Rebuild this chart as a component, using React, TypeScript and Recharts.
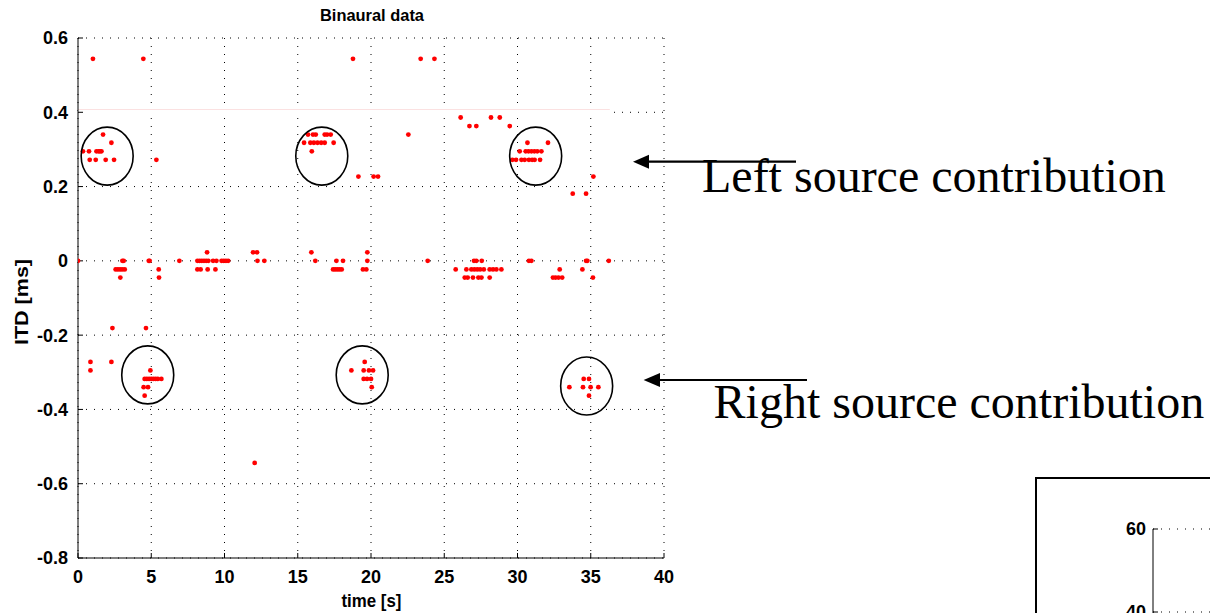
import {
  ScatterChart,
  Scatter,
  XAxis,
  YAxis,
  CartesianGrid,
  ReferenceDot,
  ReferenceLine,
} from "recharts";

// ITD levels in ms (one step = one sample at 44.1 kHz)
const itdLevels = [
  0.544, 0.386, 0.363, 0.34, 0.318, 0.295, 0.272, 0.227, 0.181, 0.023, 0,
  -0.023, -0.045, -0.181, -0.272, -0.295, -0.318, -0.34, -0.363, -0.544,
];

// time [s] of every estimate, one list per ITD level above
const timesAtLevel = [
  [1.02, 4.46, 18.77, 23.39, 24.33],
  [26.12, 28.19, 28.79],
  [26.72, 27.19, 29.47],
  [1.71, 15.7, 16.04, 16.23, 16.84, 17.0, 17.25, 22.55],
  [2.28, 15.43, 15.86, 16.1, 16.35, 16.6, 16.84, 17.45, 30.68, 32.08],
  [0.34, 0.75, 1.26, 1.4, 1.5, 1.6, 15.96, 30.15, 30.56, 30.75, 30.95, 31.15, 31.35, 31.63],
  [0.8, 1.21, 1.89, 2.46, 5.35, 29.65, 29.9, 30.27, 30.49, 30.78, 31.0, 31.17, 31.54],
  [19.14, 20.18, 20.48, 35.18],
  [33.77, 34.68],
  [8.81, 11.95, 12.22, 15.93, 19.75],
  [
    0, 3.03, 3.12, 4.83, 4.89, 6.92, 8.15, 8.3, 8.45, 8.6, 8.75, 8.9, 9.22, 9.45, 9.8, 9.95,
    10.1, 10.25, 12.25, 12.72, 16.2, 17.64, 18.09, 19.75, 23.87, 27.03, 27.19, 27.56, 30.78,
    30.95, 34.68, 34.77, 36.23,
  ],
  [
    2.57, 2.72, 2.87, 3.02, 3.19, 5.51, 8.15, 8.37, 8.85, 9.38, 17.41, 17.55, 17.7, 17.85, 18.0,
    19.45, 19.68, 25.78, 26.51, 26.85, 27.05, 27.25, 27.45, 27.7, 28.1, 28.33, 28.56, 28.9,
    32.88, 34.43,
  ],
  [2.89, 5.53, 26.4, 26.6, 26.96, 27.33, 27.54, 28.1, 32.42, 32.6, 32.8, 33.05, 35.15],
  [2.35, 4.64],
  [0.85, 2.28, 19.57],
  [0.85, 4.94, 18.66, 19.5, 19.86, 20.14],
  [4.55, 4.7, 4.85, 5.0, 5.15, 5.3, 5.45, 5.69, 19.5, 19.73, 20.0, 34.52, 34.88],
  [4.48, 4.78, 20.05, 33.54, 34.47, 34.99, 35.52],
  [4.55, 34.88],
  [12.06],
];

const xTicks = [0, 5, 10, 15, 20, 25, 30, 35, 40];
const yTicks = [-0.8, -0.6, -0.4, -0.2, 0, 0.2, 0.4, 0.6];

// circled source clusters (centre time, centre ITD)
const circleTimes = [1.99, 16.64, 31.24, 4.76, 19.4, 34.72];
const circleItds = [0.282, 0.282, 0.282, -0.307, -0.307, -0.337];

// second (cut off) figure in the corner
const cornerTicks = [0, 20, 40, 60];

const sans = "'Liberation Sans', Arial, Helvetica, sans-serif";
const serif = "'Liberation Serif', 'Times New Roman', serif";
const tickStyle = { fill: "#000", fontSize: 18, fontWeight: "bold", fontFamily: sans };

const RedDot = (props: any) => <circle cx={props.cx} cy={props.cy} r={2.4} fill="#ff0000" />;
const Ellipse = (props: any) => (
  <ellipse cx={props.cx} cy={props.cy} rx={26} ry={29} fill="none" stroke="#000" strokeWidth={1.6} />
);
const CornerTick = (props: any) => (
  <text
    x={props.x}
    y={props.y}
    textAnchor="end"
    dominantBaseline="central"
    fill="#000"
    fontSize={18}
    fontWeight="bold"
    fontFamily={sans}
  >
    {props.payload.value}
  </text>
);

export default function App() {
  const points = itdLevels.flatMap((itd, i) => timesAtLevel[i].map((t) => ({ t, itd })));

  return (
    <div
      style={{
        position: "absolute",
        left: 0,
        top: 0,
        width: 1210,
        height: 613,
        overflow: "hidden",
        background: "#fff",
      }}
    >
      <div style={{ position: "absolute", left: 0, top: 0 }}>
        <ScatterChart width={700} height={613} margin={{ top: 38, right: 36, bottom: 0, left: 0 }}>
          <CartesianGrid stroke="#000" strokeDasharray="1 7" />
          <XAxis
            type="number"
            dataKey="t"
            domain={[0, 40]}
            ticks={xTicks}
            interval={0}
            height={55}
            allowDataOverflow
            axisLine={{ stroke: "#000" }}
            tickLine={{ stroke: "#000" }}
            tickSize={-5}
            tickMargin={17}
            tick={tickStyle}
          />
          <YAxis
            type="number"
            dataKey="itd"
            domain={[-0.8, 0.6]}
            ticks={yTicks}
            interval={0}
            width={78}
            allowDataOverflow
            axisLine={{ stroke: "#000" }}
            tickLine={{ stroke: "#000" }}
            tickSize={-5}
            tickMargin={15}
            tick={tickStyle}
            tickFormatter={(v: number) => (v === 0 ? "0" : v.toFixed(1))}
          />
          {/* pale band over the 0.4 grid line in the original */}
          <ReferenceLine
            segment={[{ x: 0, y: 0.4 }, { x: 36.3, y: 0.4 }]}
            stroke="#fff"
            strokeWidth={5}
          />
          <ReferenceLine
            segment={[{ x: 0, y: 0.4075 }, { x: 36.3, y: 0.4075 }]}
            stroke="#fbe1e1"
            strokeWidth={1}
          />
          <Scatter data={points} shape={RedDot} isAnimationActive={false} />
          {circleTimes.map((t, i) => (
            <ReferenceDot key={i} x={t} y={circleItds[i]} r={26} shape={Ellipse} ifOverflow="visible" />
          ))}
        </ScatterChart>
      </div>

      <div
        style={{
          position: "absolute",
          left: 1035,
          top: 477,
          width: 400,
          height: 300,
          borderLeft: "2px solid #000",
          borderTop: "2px solid #000",
          boxSizing: "border-box",
        }}
      >
        <ScatterChart width={400} height={300} margin={{ top: 50, right: 0, bottom: 1, left: 0 }}>
          <CartesianGrid stroke="#000" strokeDasharray="1 7" vertical={false} />
          <XAxis type="number" dataKey="t" domain={[0, 1]} hide />
          <YAxis
            type="number"
            dataKey="v"
            domain={[0, 60]}
            ticks={cornerTicks}
            interval={0}
            width={116}
            allowDataOverflow
            axisLine={{ stroke: "#000" }}
            tickLine={{ stroke: "#000" }}
            tickSize={-5}
            tickMargin={12}
            tick={CornerTick}
          />
          <Scatter data={[{ t: 2, v: 70 }]} isAnimationActive={false} />
        </ScatterChart>
      </div>

      <svg
        width={1210}
        height={613}
        style={{ position: "absolute", left: 0, top: 0, pointerEvents: "none" }}
      >
        <text
          x={372}
          y={20.7}
          textAnchor="middle"
          fontFamily={sans}
          fontWeight="bold"
          fontSize={16}
          textLength={104}
          lengthAdjust="spacingAndGlyphs"
        >
          Binaural data
        </text>
        <text
          x={371.5}
          y={606.5}
          textAnchor="middle"
          fontFamily={sans}
          fontWeight="bold"
          fontSize={19}
          textLength={60}
          lengthAdjust="spacingAndGlyphs"
        >
          time [s]
        </text>
        <text
          transform="translate(27.5,302) rotate(-90)"
          textAnchor="middle"
          fontFamily={sans}
          fontWeight="bold"
          fontSize={18}
          textLength={86}
          lengthAdjust="spacingAndGlyphs"
        >
          ITD [ms]
        </text>

        <line x1={647} y1={161.7} x2={796} y2={161.7} stroke="#000" strokeWidth={2.2} />
        <polygon points="633,161.7 649,154.7 649,168.7" fill="#000" />
        <text x={702} y={191.7} fontFamily={serif} fontSize={48}>
          Left source contribution
        </text>

        <line x1={657} y1={380} x2={807} y2={380} stroke="#000" strokeWidth={2.2} />
        <polygon points="643.6,380 660,373 660,387" fill="#000" />
        <text x={713.6} y={418.3} fontFamily={serif} fontSize={48}>
          Right source contribution
        </text>
      </svg>
    </div>
  );
}
